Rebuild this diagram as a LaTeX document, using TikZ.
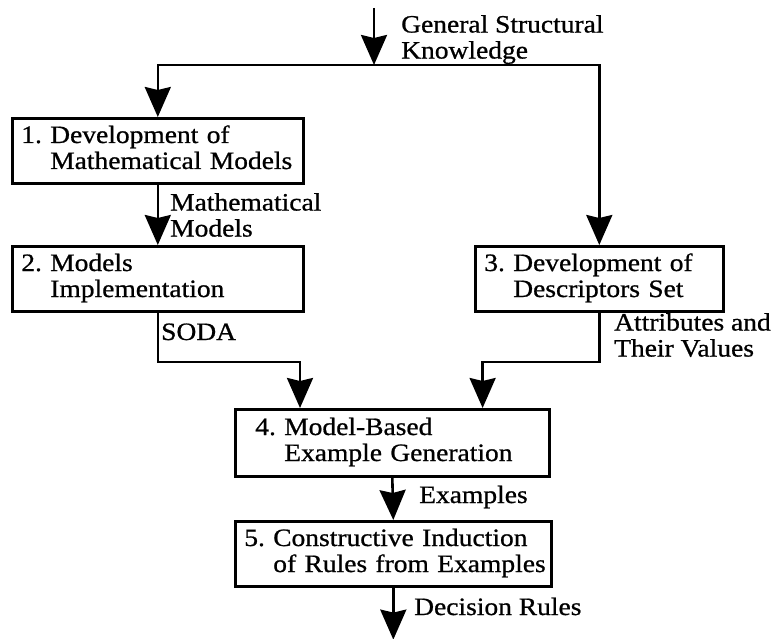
\documentclass[tikz,border=0pt]{standalone}
\usepackage{fontspec}
\setmainfont{Liberation Serif}[FakeStretch=1.1, FakeBold=0.8]
\usetikzlibrary{arrows.meta}

\newcommand{\stage}[3]{\begin{tabular}{@{}l@{\ }l@{}}#1 & #2\\ & #3\end{tabular}}

\tikzset{
	stagebox/.style={draw, line width=2.6pt, anchor=north west, align=left,
		inner xsep=9pt, inner ysep=0pt, minimum height=65pt},
	flow/.style={-{Stealth[length=30pt, width=26pt, inset=3pt]}, line width=2.6pt},
	note/.style={anchor=north west, inner sep=0pt, align=left}
}

\begin{document}
\begin{tikzpicture}[x=1pt, y=-1pt, font=\fontsize{25}{26}\selectfont]
		\pgfmathsetmacro{\mergedrop}{46}
		\pgfmathsetmacro{\outdrop}{52}
		\useasboundingbox (0,0) rectangle (773,639);

		\node[stagebox, text width=273pt] (devmodels) at (11,117) {\stage{1.}{Development of}{Mathematical Models}};
		\node[stagebox, text width=273pt] (implement) at (11,245) {\stage{2.}{Models}{Implementation}};
		\node[stagebox, text width=230pt] (descriptors) at (474,245) {\stage{3.}{Development of}{Descriptors Set}};
		\node[stagebox, text width=296pt, minimum height=67pt] (generation) at (234,408) {\hspace*{11pt}\stage{4.}{Model-Based}{Example Generation}};
		\node[stagebox, text width=298pt] (induction) at (234,520) {\stage{5.}{Constructive Induction}{of Rules from Examples}};

		\coordinate (source) at (374,8);
		\coordinate (branch) at (374,65);
		\coordinate (sodain) at ([xshift=66pt]generation.north west);
		\coordinate (attrin) at ([xshift=-68pt]generation.north east);
		\coordinate (sodabend) at ([yshift=\mergedrop pt]sodain);
		\coordinate (attrbend) at ([yshift=\mergedrop pt]attrin);
		\coordinate (rules) at ([yshift=-\outdrop pt]induction.south);

		\draw[flow] (source) -- (branch);
		\draw[flow] (branch) -| (devmodels.north);
		\draw[flow] (branch) -| (descriptors.north);
		\draw[flow] (devmodels.south) -- (implement.north);
		\draw[flow] (implement.south) |- (sodabend) -- (sodain);
		\draw[flow] (descriptors.south) |- (attrbend) -- (attrin);
		\draw[flow] (generation.south) -- (induction.north);
		\draw[flow] (induction.south) -- (rules);

		\node[note] (knowledge) at (401,15) {General Structural\\Knowledge};
		\node[note] (mathmodels) at (170,193) {Mathematical\\Models};
		\node[note, anchor=base west] (soda) at (161,340) {SODA};
		\node[note] (attributes) at (614,313) {Attributes and\\Their Values};
		\node[note, anchor=base west] (examples) at (419,503) {Examples};
		\node[note, anchor=base west] (decision) at (414,615) {Decision Rules};
	\end{tikzpicture}
\end{document}
